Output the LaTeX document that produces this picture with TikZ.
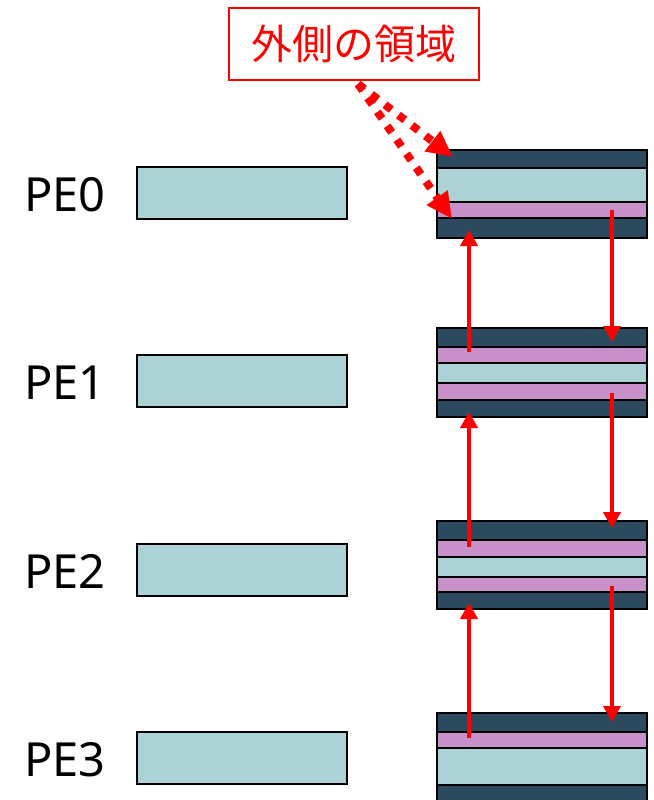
\documentclass[tikz,border=0pt]{standalone}
\usepackage{fontspec}
\setmainfont{Noto Sans}
\newfontfamily\cjk{Noto Sans CJK JP}
\usetikzlibrary{arrows.meta}
\definecolor{darkc}{RGB}{44,74,94}
\definecolor{lightc}{RGB}{173,210,213}
\definecolor{pinkc}{RGB}{200,144,200}
\begin{document}
\begin{tikzpicture}[x=1pt,y=-1pt,
  leftbox/.style={draw=black,line width=2pt,fill=lightc,minimum width=210pt,minimum height=52pt,anchor=north west,inner sep=0pt,outer sep=0pt},
  layer/.style={draw=black,line width=2pt,minimum width=210pt,anchor=north west,inner sep=0pt,outer sep=0pt},
  pelabel/.style={font=\fontsize{47}{56}\selectfont,inner sep=0pt},
  xfer/.style={draw=red,line width=4pt,-{Triangle[length=16pt,width=17pt]}},
  dotarrow/.style={draw=red,line width=8pt,dash pattern=on 8pt off 9pt,-{Triangle[length=26pt,width=24pt]}}
]
\useasboundingbox (0,0) rectangle (653,800);
% left boxes and labels
\node[leftbox] (b0) at (137,167) {};
\node[leftbox] (b1) at (137,355) {};
\node[leftbox] (b2) at (137,544) {};
\node[leftbox] (b3) at (137,732) {};
\node[pelabel] (l0) at (65,195) {PE0};
\node[pelabel] (l1) at (65,383) {PE1};
\node[pelabel] (l2) at (65,571) {PE2};
\node[pelabel] (l3) at (65,760) {PE3};
% stack PE0
\node[layer,fill=darkc,minimum height=18pt] (s0a) at (437,150) {};
\node[layer,fill=lightc,minimum height=34pt] (s0b) at (437,168) {};
\node[layer,fill=pinkc,minimum height=16pt] (s0c) at (437,202) {};
\node[layer,fill=darkc,minimum height=20pt] (s0d) at (437,218) {};
% stack PE1
\node[layer,fill=darkc,minimum height=19pt] (s1a) at (437,328) {};
\node[layer,fill=pinkc,minimum height=16pt] (s1b) at (437,347) {};
\node[layer,fill=lightc,minimum height=20pt] (s1c) at (437,363) {};
\node[layer,fill=pinkc,minimum height=17pt] (s1d) at (437,383) {};
\node[layer,fill=darkc,minimum height=17pt] (s1e) at (437,400) {};
% stack PE2
\node[layer,fill=darkc,minimum height=19pt] (s2a) at (437,521) {};
\node[layer,fill=pinkc,minimum height=17pt] (s2b) at (437,540) {};
\node[layer,fill=lightc,minimum height=20pt] (s2c) at (437,557) {};
\node[layer,fill=pinkc,minimum height=15pt] (s2d) at (437,577) {};
\node[layer,fill=darkc,minimum height=17pt] (s2e) at (437,592) {};
% stack PE3
\node[layer,fill=darkc,minimum height=19pt] (s3a) at (437,713) {};
\node[layer,fill=pinkc,minimum height=16pt] (s3b) at (437,732) {};
\node[layer,fill=lightc,minimum height=37pt] (s3c) at (437,748) {};
\node[layer,fill=darkc,minimum height=20pt] (s3d) at (437,785) {};
% transfer arrows
\coordinate (u1s) at (469,352); \coordinate (u1e) at (469,230);
\coordinate (u2s) at (469,547); \coordinate (u2e) at (469,412);
\coordinate (u3s) at (469,738); \coordinate (u3e) at (469,603);
\coordinate (d0s) at (612,210); \coordinate (d0e) at (612,342);
\coordinate (d1s) at (612,393); \coordinate (d1e) at (612,528);
\coordinate (d2s) at (612,586); \coordinate (d2e) at (612,722);
\draw[xfer] (u1s) -- (u1e);
\draw[xfer] (u2s) -- (u2e);
\draw[xfer] (u3s) -- (u3e);
\draw[xfer] (d0s) -- (d0e);
\draw[xfer] (d1s) -- (d1e);
\draw[xfer] (d2s) -- (d2e);
% label
\node[draw=red,line width=2pt,fill=white,minimum width=250pt,minimum height=72pt,inner sep=0pt,text=red,font=\cjk\fontsize{41}{48}\selectfont] (lbl) at (354,44) {外側の領域};
\coordinate (ds) at (358,84);
\coordinate (ta) at (453,157);
\coordinate (tb) at (452,219);
\draw[dotarrow] (ds) -- (ta);
\draw[dotarrow] (ds) -- (tb);
\end{tikzpicture}
\end{document}
